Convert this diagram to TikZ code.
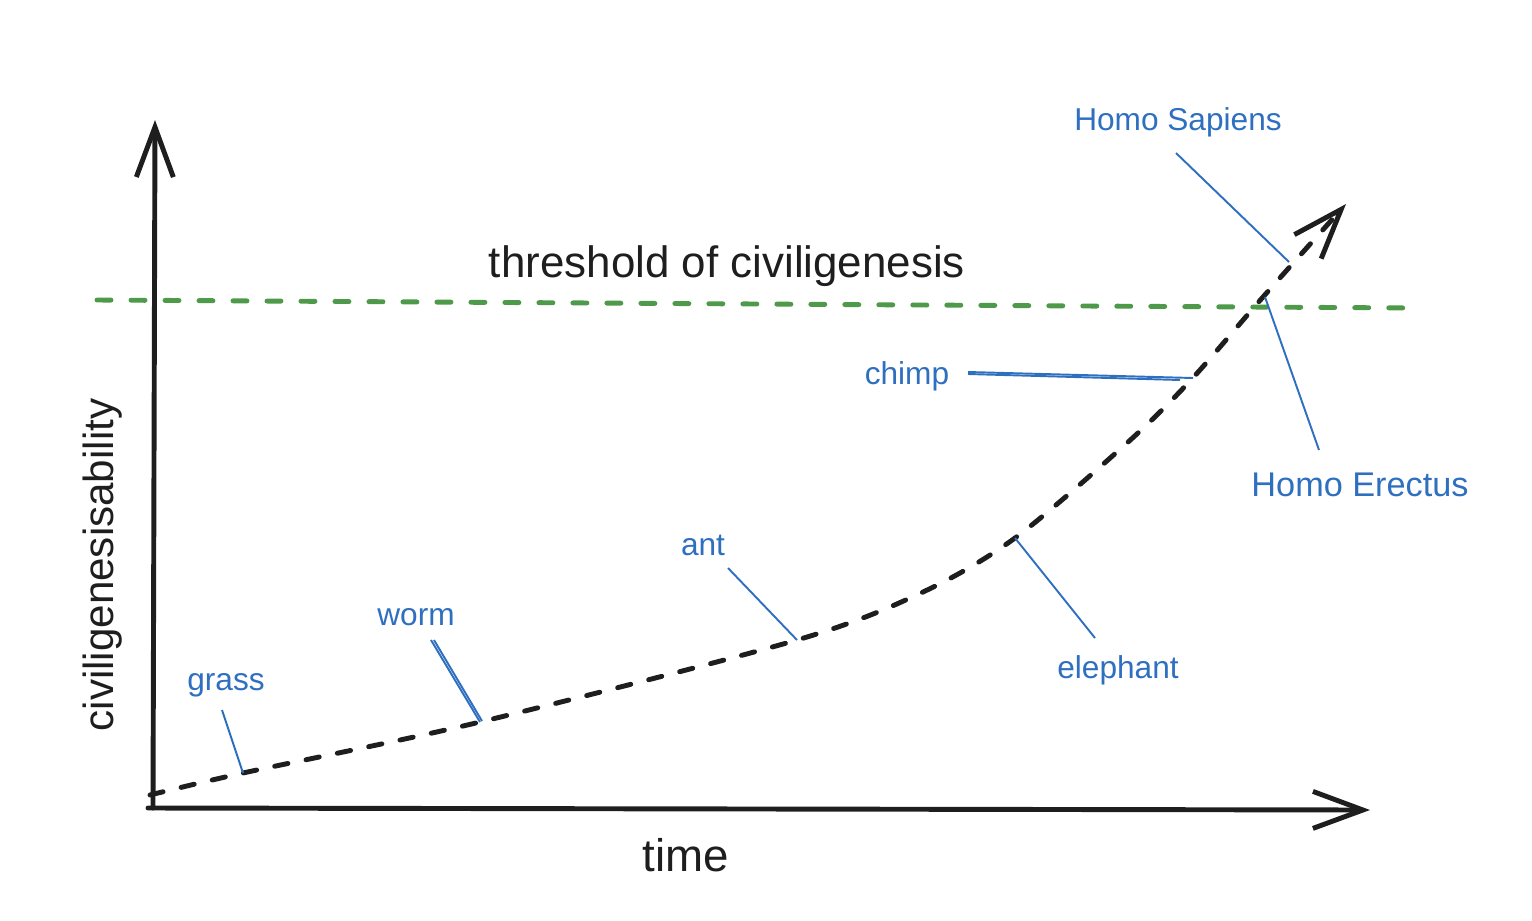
\documentclass[tikz,border=0pt]{standalone}
\usepackage{fontspec}
\setmainfont{Liberation Sans}
\usetikzlibrary{arrows.meta}
\definecolor{lblue}{HTML}{2F6FC0}
\definecolor{lgreen}{HTML}{4E9A4A}
\definecolor{ink}{HTML}{1E1E1E}
\begin{document}
\begin{tikzpicture}[x=0.02cm,y=-0.02cm,
  axis/.style={draw=ink,line width=2.8pt,line cap=round,line join=round,
    -{Straight Barb[length=1cm,width=0.74cm,line width=2.8pt]}},
  curve/.style={draw=ink,line width=2.8pt,dash pattern=on 0.27cm off 0.37cm,line cap=round,
    -{Straight Barb[length=1cm,width=0.72cm,line width=2.8pt]}},
  thresh/.style={draw=lgreen,line width=2.8pt,dash pattern=on 0.28cm off 0.4cm,line cap=round},
  lbl/.style={text=lblue,font=\fontsize{18}{21}\selectfont,inner sep=1pt},
  lead/.style={draw=lblue,line width=1.1pt},
  big/.style={text=ink,font=\fontsize{25}{29}\selectfont,inner sep=1pt}]
\useasboundingbox (0,0) rectangle (1532,920);
% axes
\coordinate (ytop) at (155,120);
\coordinate (ybot) at (153,808);
\coordinate (xr) at (1370,810);
\coordinate (xl) at (148,808);
\draw[axis] (ybot) -- (ytop);
\draw[axis] (xl) -- (xr);
% threshold
\coordinate (tl) at (97,300);
\coordinate (tr) at (1415,308);
\draw[thresh] (tl) -- (tr);
% curve points
\coordinate (c0) at (150,795);
\coordinate (cg) at (243,773);
\coordinate (cw) at (480,722);
\coordinate (ca) at (797,640);
\coordinate (c4) at (923,592);
\coordinate (ce) at (1015,538);
\coordinate (c6) at (1127,443);
\coordinate (cc) at (1190,381);
\coordinate (chE) at (1263,297);
\coordinate (chS) at (1289,262);
\coordinate (cend) at (1346,204);
\draw[curve] plot[smooth,tension=0.5] coordinates {(c0) (cg) (cw) (ca) (c4) (ce) (c6) (cc) (chE) (cend)};
% texts
\node[big] (thr) at (727,266) {threshold of civiligenesis};
\node[big,font=\fontsize{26}{30}\selectfont] (time) at (686,855) {time};
\node[big,font=\fontsize{24}{28}\selectfont,rotate=90] (ylab) at (103,565) {civiligenesisability};
% labels
\node[lbl] (sap) at (1178,122) {Homo Sapiens};
\node[lbl,font=\fontsize{19.5}{23}\selectfont] (ere) at (1360,485) {Homo Erectus};
\node[lbl] (chimp) at (907,376) {chimp};
\node[lbl] (ant) at (703,545) {ant};
\node[lbl] (worm) at (416,617) {worm};
\node[lbl] (grass) at (226,685) {grass};
\node[lbl] (eleph) at (1118,670) {elephant};
% leader coordinates
\coordinate (sapA) at (1176,153);
\coordinate (ereA) at (1319,450);
\coordinate (ereB) at (1265,297);
\coordinate (chA) at (968,372);
\coordinate (chA2) at (968,374);
\coordinate (chB) at (1193,378);
\coordinate (chB2) at (1180,380);
\coordinate (antA) at (728,568);
\coordinate (wA) at (431,640);
\coordinate (wA2) at (434,640);
\coordinate (wB2) at (482,721);
\coordinate (gA) at (222,710);
\coordinate (eA) at (1095,638);
\draw[lead] (sapA) -- (chS);
\draw[lead] (ereA) -- (ereB);
\draw[lead] (chA) -- (chB);
\draw[lead] (chA2) -- (chB2);
\draw[lead] (antA) -- (ca);
\draw[lead] (wA) -- (cw);
\draw[lead] (wA2) -- (wB2);
\draw[lead] (gA) -- (cg);
\draw[lead] (eA) -- (ce);
\end{tikzpicture}
\end{document}
